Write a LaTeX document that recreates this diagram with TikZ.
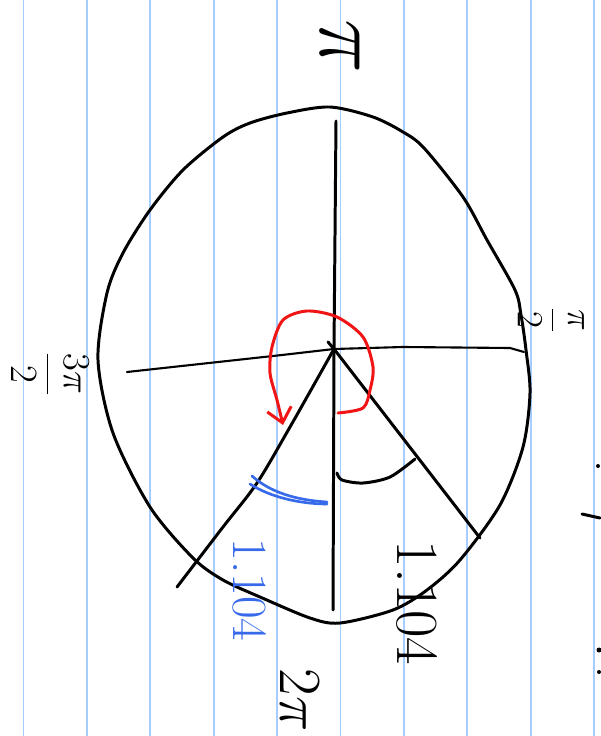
\RequirePackage{fix-cm}
\documentclass[tikz,border=0pt]{standalone}
\usepackage{amsmath,amssymb}
\usepackage{xcolor}
\usepackage{tikz}
\usetikzlibrary{arrows.meta}
\definecolor{ruleblue}{RGB}{165,205,255}
\definecolor{penblue}{RGB}{55,105,235}
\definecolor{penred}{RGB}{240,20,20}

\begin{document}
\begin{tikzpicture}[x=0.02cm, y=-0.02cm,
    rule_line/.style={draw=ruleblue, line width=1.1pt},
    ink/.style={draw=black, line width=1.7pt, line cap=round, line join=round},
    thin_ink/.style={draw=black, line width=1.2pt, line cap=round, line join=round},
    red_ink/.style={draw=penred, line width=1.7pt, line cap=round, line join=round},
    blue_ink/.style={draw=penblue, line width=1.5pt, line cap=round, line join=round},
    hand_label/.style={rotate=-90, inner sep=0pt, font=\fontsize{30}{32}\selectfont},
    frac_label/.style={rotate=-90, inner sep=0pt, font=\fontsize{21}{23}\selectfont}
]
    \useasboundingbox (0,0) rectangle (600,736);
    \fill[white] (0,0) rectangle (600,736);
    \foreach \i in {0,...,9}
        \draw[rule_line] ({23.5+63.4*\i},0) -- ({23.5+63.4*\i},736);

    \draw[ink] plot[smooth cycle, tension=0.5] coordinates {
        (330,107) (373,117) (403,132) (424,148) (463,197) (487,240) (515,290)
        (521,315) (526,350) (530,393) (523,447) (500,505) (460,560) (427,590) (393,610)
        (340,623) (310,618) (260,597) (223,580) (193,558) (150,507) (113,433)
        (98,360) (107,293) (123,253) (150,210) (183,170) (223,137) (250,123) (287,113)};

    \coordinate (O) at (334,349);
    \coordinate (top_end) at (336,121);
    \coordinate (bot_end) at (333,610);
    \coordinate (left_end) at (127,372);
    \coordinate (right_end) at (524,352);
    \coordinate (br_end) at (480,538);
    \coordinate (bl_end) at (177,587);
    \coordinate (tick) at (328,342);

    \draw[ink] (top_end) -- (O) -- (bot_end);
    \draw[thin_ink] (left_end) -- (282,355) -- (O) -- (403,347) -- (510,348) -- (right_end);
    \draw[ink] (O) -- (br_end);
    \draw[ink] plot[smooth] coordinates {(O) (290,427) (257,483) (223,527) (bl_end)};
    \draw[ink] (tick) -- (O);

    \draw[ink] plot[smooth] coordinates {(337,473) (342,480) (363,483) (390,477) (415,459)};

    \draw[red_ink, -{Straight Barb[length=8pt, width=14pt]}] plot[smooth] coordinates {
        (338,413) (363,408) (370,390) (373,367) (363,337) (337,317) (307,311)
        (283,320) (272,347) (270,373) (277,400) (283,425)};

    \draw[blue_ink] (252,476) .. controls (270,492) and (295,500) .. (327,502);
    \draw[blue_ink] (250,484) .. controls (270,497) and (300,504) .. (327,504);

    \node[hand_label, font=\fontsize{52}{54}\selectfont] (lbl_pi) at (340,47) {$\pi$};
    \node[frac_label] (lbl_half) at (551,320) {$\dfrac{\pi}{2}$};
    \node[frac_label, font=\fontsize{22}{24}\selectfont] (lbl_threehalf) at (50,374) {$\dfrac{3\pi}{2}$};
    \node[hand_label, font=\fontsize{34}{36}\selectfont] (lbl_twopi) at (300,700) {$2\pi$};
    \node[hand_label, font=\fontsize{34}{36}\selectfont] (val_black) at (417,603) {1.104};
    \node[hand_label, font=\fontsize{28}{30}\selectfont, text=penblue] (val_blue) at (250,590) {1.104};

    \draw[ink] (582,514) -- (600,518);
    \fill (598,466) circle (2);
    \fill (599,650) circle (2.5);
    \fill (599,672) circle (2);
\end{tikzpicture}
\end{document}
